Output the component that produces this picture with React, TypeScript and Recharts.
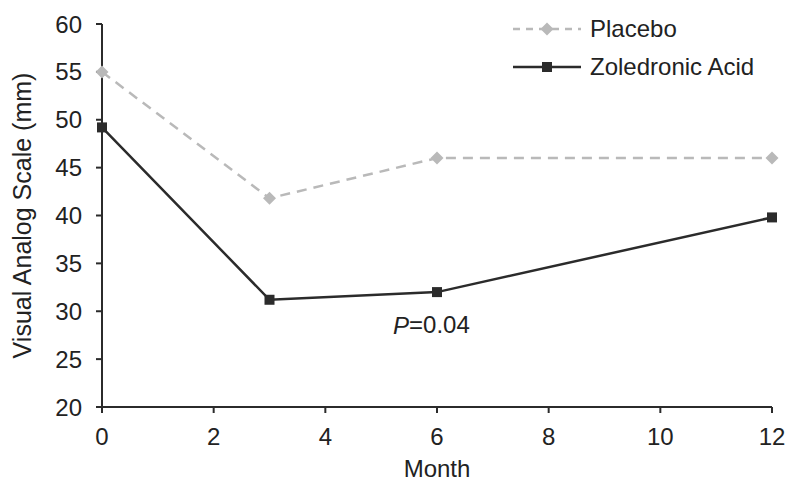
import React from "react";
import {
  LineChart,
  Line,
  XAxis,
  YAxis,
  Legend,
  ReferenceDot,
} from "recharts";

const months = [0, 3, 6, 12];
const placebo = [55, 41.8, 46, 46];
const zoledronic = [49.2, 31.2, 32, 39.8];
const xTicks = [0, 2, 4, 6, 8, 10, 12];
const yTicks = [20, 25, 30, 35, 40, 45, 50, 55, 60];

const data = months.map((m, i) => ({
  month: m,
  placebo: placebo[i],
  zoledronic: zoledronic[i],
}));

const FONT = "'Liberation Sans', Arial, sans-serif";
const DARK = "#2b2b2b";
const GRAY = "#b9b9b9";
const TEXT = "#222";

const Diamond = (props: any) => {
  const { cx, cy } = props;
  if (cx == null || cy == null) return null;
  const r = 6.5;
  return (
    <path
      d={`M${cx},${cy - r}L${cx + r},${cy}L${cx},${cy + r}L${cx - r},${cy}Z`}
      fill={GRAY}
    />
  );
};

const Square = (props: any) => {
  const { cx, cy } = props;
  if (cx == null || cy == null) return null;
  const s = 10;
  return <rect x={cx - s / 2} y={cy - s / 2} width={s} height={s} fill={DARK} />;
};

const LegendBox = () => (
  <div style={{ fontFamily: FONT, fontSize: 24, color: TEXT, lineHeight: 1 }}>
    <div style={{ display: "flex", alignItems: "center", height: 38 }}>
      <svg width={70} height={20}>
        <line x1={0} y1={10} x2={68} y2={10} stroke={GRAY} strokeWidth={2.5} strokeDasharray="7 6" />
        <path d="M34,3.5L40.5,10L34,16.5L27.5,10Z" fill={GRAY} />
      </svg>
      <span style={{ marginLeft: 7 }}>Placebo</span>
    </div>
    <div style={{ display: "flex", alignItems: "center", height: 38 }}>
      <svg width={70} height={20}>
        <line x1={0} y1={10} x2={68} y2={10} stroke={DARK} strokeWidth={2.5} />
        <rect x={29} y={5} width={10} height={10} fill={DARK} />
      </svg>
      <span style={{ marginLeft: 7 }}>Zoledronic Acid</span>
    </div>
  </div>
);

const PLabel = (props: any) => {
  const { viewBox } = props;
  const x = viewBox.cx ?? viewBox.x;
  const y = viewBox.cy ?? viewBox.y;
  return (
    <text x={x} y={y} textAnchor="middle" dominantBaseline="central" fontFamily={FONT} fontSize={24} fill={TEXT}>
      <tspan fontStyle="italic">P</tspan>=0.04
    </text>
  );
};

export default function App() {
  return (
    <div style={{ position: "absolute", left: 0, top: 0, background: "#fff" }}>
      <LineChart
        width={785}
        height={482}
        data={data}
        margin={{ top: 24, right: 13, left: 0, bottom: 0 }}
      >
        <XAxis
          dataKey="month"
          type="number"
          domain={[0, 12]}
          ticks={xTicks}
          height={75}
          tickSize={6}
          tickMargin={15}
          stroke={DARK}
          strokeWidth={2}
          tick={{ fill: TEXT, fontSize: 24, fontFamily: FONT }}
          label={{
            value: "Month",
            position: "insideBottom",
            offset: 5,
            fill: TEXT,
            fontSize: 24,
            fontFamily: FONT,
          }}
        />
        <YAxis
          type="number"
          domain={[20, 60]}
          ticks={yTicks}
          width={102}
          tickSize={6}
          tickMargin={14}
          stroke={DARK}
          strokeWidth={2}
          tick={{ fill: TEXT, fontSize: 24, fontFamily: FONT }}
          label={{
            value: "Visual Analog Scale (mm)",
            angle: -90,
            position: "insideLeft",
            offset: 22,
            fill: TEXT,
            fontSize: 25,
            fontFamily: FONT,
            style: { textAnchor: "middle" },
          }}
        />
        <Legend
          layout="horizontal"
          verticalAlign="middle"
          align="center"
          content={<LegendBox />}
          wrapperStyle={{ top: 10, left: 513, width: 265 }}
        />
        <Line
          dataKey="placebo"
          stroke={GRAY}
          strokeWidth={2.5}
          strokeDasharray="10 7"
          dot={<Diamond />}
          activeDot={false}
          isAnimationActive={false}
        />
        <Line
          dataKey="zoledronic"
          stroke={DARK}
          strokeWidth={2.5}
          dot={<Square />}
          activeDot={false}
          isAnimationActive={false}
        />
        <ReferenceDot x={5.9} y={28.6} r={0} fill="none" stroke="none" label={<PLabel />} />
      </LineChart>
    </div>
  );
}
